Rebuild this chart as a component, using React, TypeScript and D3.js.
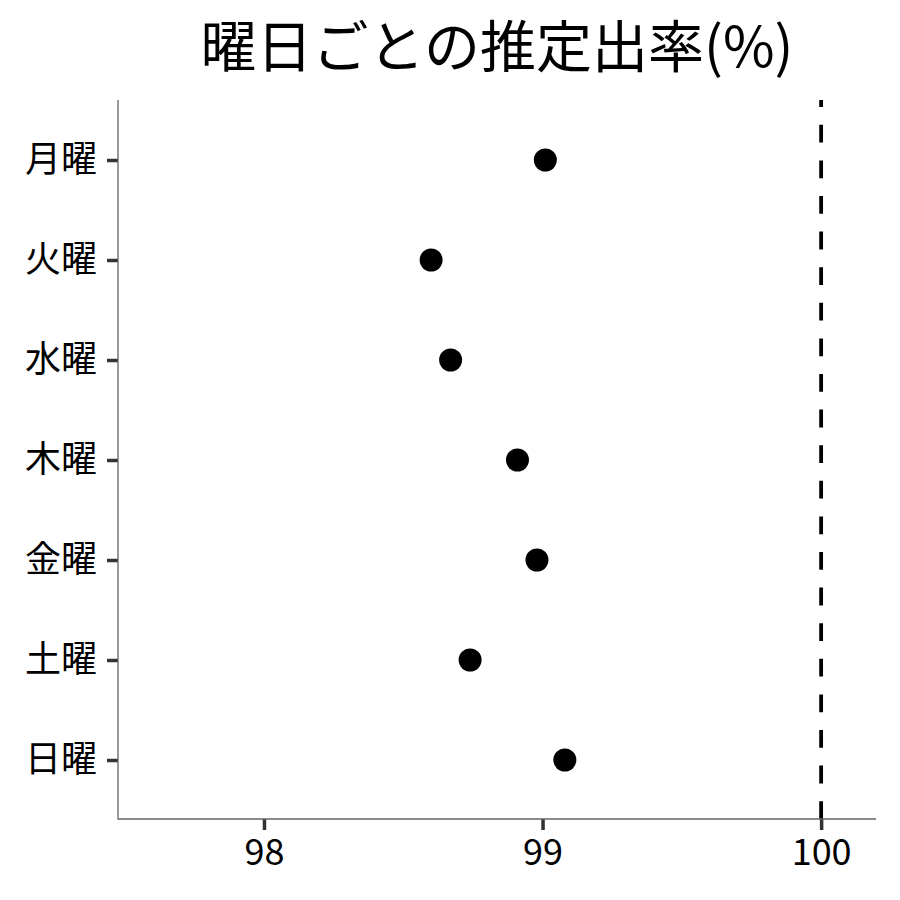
import React, { useRef, useEffect } from 'react';
import { select, scaleLinear, scalePoint, axisLeft, axisBottom, format } from 'd3';

const days = ['月曜', '火曜', '水曜', '木曜', '金曜', '土曜', '日曜'];
const rates = [99.01, 98.6, 98.67, 98.91, 98.98, 98.74, 99.08];
const xTicks = [98, 99, 100];
const refValue = 100;

const W = 900;
const H = 900;
const FONT = '"Noto Sans CJK JP", "Noto Sans", sans-serif';

const App = () => {
  const svgRef = useRef(null);

  useEffect(() => {
    const svg = select(svgRef.current);
    svg.selectAll('*').remove();

    const left = 118;
    const right = 876;
    const top = 100;
    const bottom = 819;

    const x = scaleLinear().domain([97.476, 100.197]).range([left, right]);
    // @ts-ignore
    const y = scalePoint().domain(days).range([160, 760]);

    // title
    svg
      .append('text')
      .attr('x', (left + right) / 2)
      .attr('y', 67)
      .attr('text-anchor', 'middle')
      .style('font-family', FONT)
      .style('font-size', '56px')
      .attr('fill', '#000')
      .text('曜日ごとの推定出率(%)');

    // reference line, dashes start at the bottom of the panel
    svg
      .append('line')
      .attr('x1', x(refValue))
      .attr('x2', x(refValue))
      .attr('y1', bottom)
      .attr('y2', top)
      .attr('stroke', '#000')
      .attr('stroke-width', 3.8)
      .attr('stroke-dasharray', '17.8,17.8');

    const yAxis = axisLeft(y).tickSize(11).tickPadding(10);
    const gy = svg.append('g').attr('transform', `translate(${left},0)`).call(yAxis);

    const xAxis = axisBottom(x).tickValues(xTicks).tickFormat(format('d')).tickSize(11).tickPadding(9);
    const gx = svg.append('g').attr('transform', `translate(0,${bottom})`).call(xAxis);

    // axis lines: y from the panel top, x to the panel right
    gy.select('.domain').remove();
    gx.select('.domain').remove();
    svg
      .append('path')
      .attr('d', `M${left},${top}V${bottom}H${right}`)
      .attr('fill', 'none')
      .attr('stroke', '#666')
      .attr('stroke-width', 1.3);

    [gx, gy].forEach((g) => {
      g.selectAll('.tick line').attr('stroke', '#333').attr('stroke-width', 3.5);
      g.selectAll('.tick text')
        .attr('fill', '#000')
        .style('font-family', FONT)
        .style('font-size', '36px');
    });

    svg
      .selectAll('.dot')
      .data(rates)
      .join('circle')
      .attr('class', 'dot')
      .attr('cx', (d) => x(d))
      // @ts-ignore
      .attr('cy', (d, i) => y(days[i]))
      .attr('r', 11.5)
      .attr('fill', '#000');
  }, []);

  return (
    <svg
      ref={svgRef}
      width={W}
      height={H}
      style={{ position: 'absolute', left: 0, top: 0, background: '#fff' }}
    />
  );
};

export default App;
